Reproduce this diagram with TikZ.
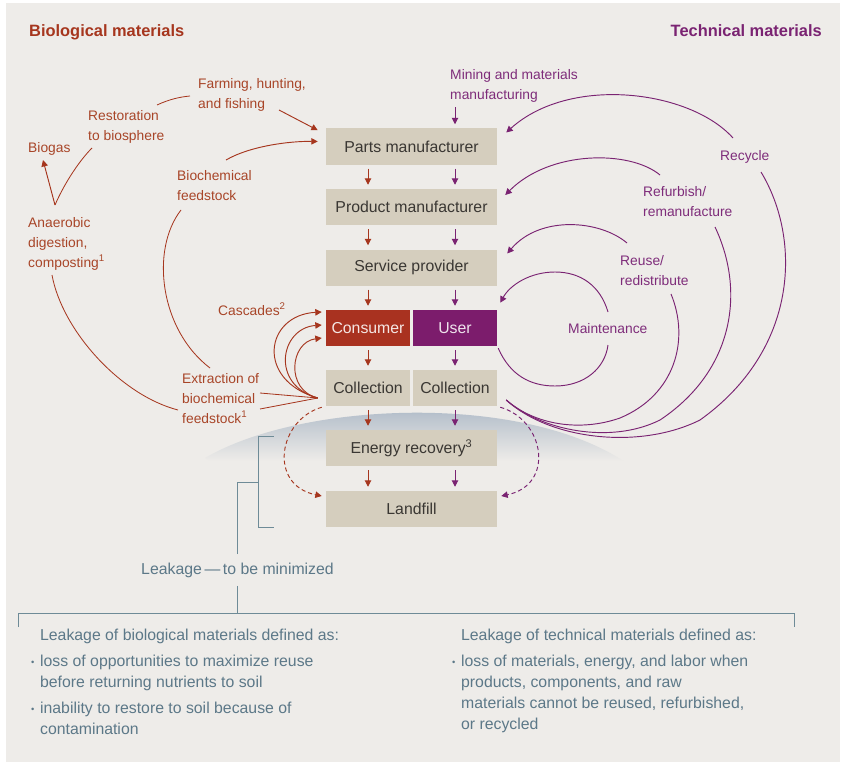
\documentclass[tikz,border=0pt]{standalone}
\usepackage{fontspec}
\setmainfont{Liberation Sans}
\usetikzlibrary{arrows.meta,calc}
\definecolor{bg}{HTML}{EEECE9}
\definecolor{boxbg}{HTML}{D5CEBE}
\definecolor{boxtxt}{HTML}{3A3733}
\definecolor{bioc}{HTML}{A6361E}
\definecolor{biotxt}{HTML}{A84528}
\definecolor{consfill}{HTML}{A93220}
\definecolor{userfill}{HTML}{7C1C6C}
\definecolor{tecc}{HTML}{7A2372}
\definecolor{tectxt}{HTML}{7E2C7A}
\definecolor{leakc}{HTML}{6E8B97}
\definecolor{leaktxt}{HTML}{5C7888}
\definecolor{horizon}{HTML}{8499B1}
\pgfdeclareverticalshading{horizonfade}{100bp}{color(0bp)=(bg); color(48bp)=(bg); color(66bp)=(horizon!50!bg); color(75bp)=(horizon); color(100bp)=(horizon)}
\newcommand{\lkdot}{\makebox[7.6pt][l]{\raisebox{1.2pt}{\footnotesize\textbullet}}}
\newcommand{\lkind}{\hspace*{7.6pt}}
\begin{document}
\begin{tikzpicture}[x=0.03cm,y=-0.03cm]
        \tikzstyle{box}=[fill=boxbg, text=boxtxt, minimum width=5.13cm, minimum height=1.08cm, inner sep=0pt, font=\fontsize{13.5}{16}\selectfont]
        \tikzstyle{halfbox}=[box, minimum width=2.52cm]
        \tikzstyle{biolbl}=[text=biotxt, align=left, inner sep=0pt, anchor=north west, font=\fontsize{11.8}{17}\selectfont]
        \tikzstyle{teclbl}=[biolbl, text=tectxt]
        \tikzstyle{leaklbl}=[text=leaktxt, align=left, inner sep=0pt, font=\fontsize{13.5}{17.9}\selectfont]
        \tikzstyle{bioarr}=[draw=bioc, line width=0.8pt, -{Triangle[length=5.5pt,width=5.5pt]}]
        \tikzstyle{tecarr}=[bioarr, draw=tecc]
        \tikzstyle{bioline}=[draw=bioc, line width=0.7pt]
        \tikzstyle{tecline}=[draw=tecc, line width=0.8pt]
        \tikzstyle{leak}=[draw=leakc, line width=0.8pt]

        \useasboundingbox (0,0) rectangle (846,762);
        \fill[white] (0,0) rectangle (846,762);
        \fill[bg] (6,3) rectangle (840,762);
        \shade[shading=horizonfade] (205,458) .. controls (300,402) and (520,392) .. (625,462) .. controls (520,520) and (300,520) .. (205,458) -- cycle;

        \node[font=\fontsize{14}{17}\selectfont\bfseries, text=bioc, inner sep=0pt, anchor=north west] (biohead) at (29,24) {Biological materials};
        \node[font=\fontsize{14}{17}\selectfont\bfseries, text=tecc, inner sep=0pt, anchor=north east] (techead) at (822,24) {Technical materials};

        \node[box] (parts) at (411.5,146.5) {Parts manufacturer};
        \node[box] (prod) at (411.5,207) {Product manufacturer};
        \node[box] (svc) at (411.5,267.5) {Service provider};
        \node[halfbox, fill=consfill, text=white!88!consfill] (consumer) at (368,328) {Consumer};
        \node[halfbox, fill=userfill, text=white!88!userfill] (user) at (455,328) {User};
        \node[halfbox] (colbio) at (368,388) {Collection};
        \node[halfbox] (coltec) at (455,388) {Collection};
        \node[box] (energy) at (411.5,448) {Energy recovery\textsuperscript{3}};
        \node[box] (landfill) at (411.5,509) {Landfill};

        \node[biolbl] (farming) at (198,78) {Farming, hunting,\\and fishing};
        \node[biolbl] (resto) at (88,110) {Restoration\\to biosphere};
        \node[biolbl] (biogas) at (28,142) {Biogas};
        \node[biolbl] (anaer) at (28,217) {Anaerobic\\digestion,\\composting\textsuperscript{1}};
        \node[biolbl] (biofeed) at (177,170) {Biochemical\\feedstock};
        \node[biolbl] (cascades) at (218,303) {Cascades\textsuperscript{2}};
        \node[biolbl] (extract) at (182,373) {Extraction of\\biochemical\\feedstock\textsuperscript{1}};

        \node[teclbl] (mining) at (450,69) {Mining and materials\\manufacturing};
        \node[teclbl] (recycle) at (720,150) {Recycle};
        \node[teclbl] (refurb) at (643,186) {Refurbish/\\remanufacture};
        \node[teclbl] (reuse) at (620,255) {Reuse/\\redistribute};
        \node[teclbl] (maint) at (568,323) {Maintenance};

        \foreach \a/\b in {parts/prod,prod/svc,energy/landfill}{
            \draw[bioarr] ($(consumer |- \a.south)+(0,4)$) -- ($(consumer |- \b.north)+(0,-4)$);
            \draw[tecarr] ($(user |- \a.south)+(0,4)$) -- ($(user |- \b.north)+(0,-4)$);
        }
        \foreach \a/\b in {svc/consumer,consumer/colbio,colbio/energy}
            \draw[bioarr] ($(consumer |- \a.south)+(0,4)$) -- ($(consumer |- \b.north)+(0,-4)$);
        \foreach \a/\b in {svc/user,user/coltec,coltec/energy}
            \draw[tecarr] ($(user |- \a.south)+(0,4)$) -- ($(user |- \b.north)+(0,-4)$);
        \draw[tecarr] ($(user |- mining.south)+(0,5)$) -- ($(user |- parts.north)+(0,-4)$);

        \coordinate (vtip) at ($(anaer.north west)+(27,-12)$);
        \coordinate (hub) at ($(colbio.west)+(-8,10)$);
        \draw[bioline] ($(resto.north west)+(69,-5)$) .. controls (170,99) and (180,97) .. ($(farming.north west)+(-8,18)$);
        \draw[bioarr] ($(farming.north west)+(81,32)$) -- ($(parts.north west)+(-8,2)$);
        \draw[bioarr] ($(biofeed.north west)+(49,-10)$) .. controls (250,146) and (290,141) .. ($(parts.west)+(-8,-5)$);
        \draw[bioarr] (vtip) -- ($(biogas.north west)+(15,18)$);
        \draw[bioline] (vtip) .. controls (65,182) and (80,160) .. ($(resto.north west)+(4,38)$);
        \draw[bioline] ($(anaer.north west)+(24,58)$) .. controls (62,330) and (120,395) .. ($(extract.north west)+(-4,37)$);
        \draw[bioline] ($(biofeed.north west)+(4,40)$) .. controls (150,250) and (160,330) .. ($(extract.north west)+(28,-5)$);
        \draw[bioline] ($(extract.north west)+(78,20)$) -- (hub);
        \draw[bioline] ($(extract.north west)+(78,36)$) -- (hub);
        \draw[bioarr] (hub) .. controls (255,380) and (265,315) .. ($(consumer.west)+(-4,-16)$);
        \draw[bioarr] (hub) .. controls (270,385) and (280,328) .. ($(consumer.west)+(-4,-3)$);
        \draw[bioarr] (hub) .. controls (285,390) and (290,342) .. ($(consumer.west)+(-4,10)$);
        \draw[bioarr, dash pattern=on 3.5pt off 2.5pt] ($(colbio.south west)+(-4,1)$) .. controls (278,420) and (268,485) .. ($(landfill.west)+(-4,-13)$);

        \coordinate (tecq) at ($(coltec.east)+(9,12)$);
        \draw[tecarr] ($(recycle.north west)+(13,-12)$) .. controls (690,90) and (570,75) .. ($(parts.east)+(9,-14)$);
        \draw[tecarr] ($(refurb.north west)+(17,-11)$) .. controls (630,150) and (550,150) .. ($(prod.east)+(8,-12)$);
        \draw[tecarr] ($(reuse.north west)+(7,-12)$) .. controls (600,220) and (540,215) .. ($(svc.east)+(10,-14)$);
        \draw[tecarr] ($(maint.north west)+(40,-11)$) .. controls (600,285) and (580,272) .. (555,272) .. controls (530,272) and (510,285) .. ($(user.north east)+(3,-7)$);
        \draw[tecline] ($(user.south east)+(1,2)$) .. controls (510,375) and (530,386) .. (555,386) .. controls (585,386) and (605,368) .. ($(maint.north west)+(40,22)$);
        \draw[tecline] ($(reuse.north west)+(51,39)$) .. controls (690,340) and (675,395) .. (620,418) .. controls (580,432) and (535,425) .. (tecq);
        \draw[tecline] ($(refurb.north west)+(72,41)$) .. controls (745,290) and (735,370) .. (660,420) .. controls (610,445) and (540,430) .. (tecq);
        \draw[tecline] ($(recycle.north west)+(41,22)$) .. controls (802,240) and (798,350) .. (700,420) .. controls (640,450) and (550,440) .. (tecq);
        \draw[tecarr, dash pattern=on 3.5pt off 2.5pt] ($(coltec.south east)+(3,1)$) .. controls (545,420) and (555,485) .. ($(landfill.east)+(4,-13)$);

        \node[leaklbl, inner ysep=7pt] (leakage) at (237.5,570) {Leakage\,---\,to be minimized};
        \coordinate (bt) at ($(energy.north west)+(-52,7)$);
        \coordinate (bb) at ($(landfill.south west)+(-52,0)$);
        \draw[leak] (bt) -- ++(-15,0) |- (bb);
        \draw[leak] (leakage.north) |- ($(bt)!0.5!(bb)+(-15,0)$);
        \coordinate (bl) at (18,627);
        \coordinate (br) at (794,627);
        \draw[leak] (bl) -- ++(0,-14) -| (br);
        \draw[leak] (leakage.south) -- (leakage.south |- 0,613);

        \node[leaklbl, anchor=north west] (bioleak) at (31,629) {\lkind Leakage of biological materials defined as:\\[4.3pt]\lkdot loss of opportunities to maximize reuse\\\lkind before returning nutrients to soil\\[4.3pt]\lkdot inability to restore to soil because of\\\lkind contamination};
        \node[leaklbl, anchor=north west] (tecleak) at (452,629) {\lkind Leakage of technical materials defined as:\\[4.3pt]\lkdot loss of materials, energy, and labor when\\\lkind products, components, and raw\\\lkind materials cannot be reused, refurbished,\\\lkind or recycled};
    \end{tikzpicture}
\end{document}
